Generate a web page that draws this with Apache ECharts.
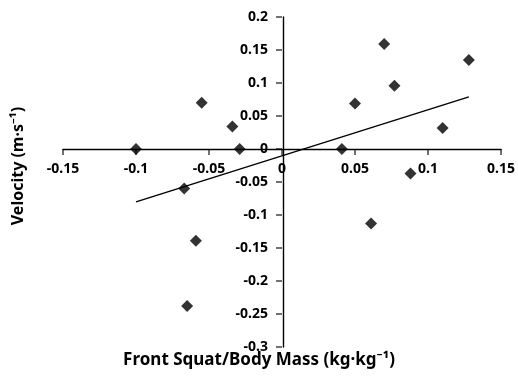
<!DOCTYPE html>
<html>
<head>
<meta charset="utf-8">
<script src="https://cdn.jsdelivr.net/npm/echarts@6/dist/echarts.min.js"></script>
<style>
  html, body { margin: 0; padding: 0; background: #fff; }
  #chart { width: 518px; height: 381px; }
</style>
</head>
<body>
<div id="chart"></div>
<script>
// front squat / body mass change vs velocity change
const massChange = [-0.100, -0.055, -0.034, -0.029, -0.067, -0.059, -0.065,
  0.041, 0.050, 0.070, 0.077, 0.110, 0.128, 0.088, 0.061];
const velocityChange = [0.000, 0.070, 0.034, 0.000, -0.060, -0.139, -0.238,
  0.000, 0.069, 0.159, 0.096, 0.032, 0.135, -0.037, -0.113];

// trend line ends
const trendX = [-0.100, 0.128];
const trendY = [-0.080, 0.079];

const xTickValues = [-0.15, -0.1, -0.05, 0, 0.05, 0.1, 0.15];
const yTickValues = [-0.3, -0.25, -0.2, -0.15, -0.1, -0.05, 0, 0.05, 0.1, 0.15, 0.2];

const font = "'Noto Sans', 'Liberation Sans', sans-serif";

const fmt = v => {
  if (Math.abs(v) < 1e-9) return '0';
  return String(parseFloat(v.toFixed(2)));
};

const xMin = xTickValues[0], xMax = xTickValues[xTickValues.length - 1];
const yMin = yTickValues[0], yMax = yTickValues[yTickValues.length - 1];

// grid box in pixels; the axes cross at zero inside it
const grid = { left: 63, right: 15, top: 17, bottom: 34 };
const plotW = 518 - grid.left - grid.right;
const plotH = 381 - grid.top - grid.bottom;
const zeroX = plotW * (0 - xMin) / (xMax - xMin);
const zeroY = plotH * (yMax - 0) / (yMax - yMin);

const chart = echarts.init(document.getElementById('chart'));

chart.setOption({
  animation: false,
  backgroundColor: '#fff',
  grid: grid,
  xAxis: {
    type: 'value',
    min: xMin, max: xMax, interval: 0.05,
    offset: -(plotH - zeroY),
    axisLine: { show: true, onZero: false, lineStyle: { color: '#000', width: 1.4 } },
    axisTick: { show: false },
    axisLabel: { color: '#000', fontFamily: font, fontWeight: 'bold', fontSize: 14, margin: 13, formatter: fmt },
    splitLine: { show: false }
  },
  yAxis: {
    type: 'value',
    min: yMin, max: yMax, interval: 0.05,
    offset: -zeroX,
    axisLine: { show: true, onZero: false, lineStyle: { color: '#000', width: 1.4 } },
    axisTick: { show: false },
    axisLabel: { color: '#000', fontFamily: font, fontWeight: 'bold', fontSize: 14, margin: 15, formatter: fmt },
    splitLine: { show: false }
  },
  graphic: [
    {
      type: 'text',
      left: 'center',
      top: 352,
      style: {
        text: 'Front Squat/Body Mass (kg·kg⁻¹)',
        fill: '#000',
        font: 'bold 17px ' + font
      }
    },
    {
      type: 'text',
      x: 10,
      y: 166,
      rotation: Math.PI / 2,
      style: {
        text: 'Velocity (m·s⁻¹)',
        fill: '#000',
        font: 'bold 16px ' + font,
        align: 'center',
        verticalAlign: 'top'
      }
    }
  ],
  series: [
    {
      type: 'scatter',
      symbol: 'diamond',
      symbolSize: 12,
      itemStyle: { color: '#000' },
      data: massChange.map((x, i) => [x, velocityChange[i]]),
      z: 3
    },
    {
      type: 'line',
      showSymbol: false,
      lineStyle: { color: '#000', width: 1.4 },
      data: trendX.map((x, i) => [x, trendY[i]]),
      z: 2
    },
    // tick marks: x ticks hang below the axis, y ticks stick out to the left
    {
      type: 'scatter',
      silent: true,
      symbol: 'rect',
      symbolSize: [1.4, 6],
      symbolOffset: [0, 3],
      itemStyle: { color: '#000' },
      data: xTickValues.map(v => [v, 0]),
      z: 1
    },
    {
      type: 'scatter',
      silent: true,
      symbol: 'rect',
      symbolSize: [6, 1.4],
      symbolOffset: [-3, 0],
      itemStyle: { color: '#000' },
      data: yTickValues.map(v => [0, v]),
      z: 1
    }
  ]
});
</script>
</body>
</html>
